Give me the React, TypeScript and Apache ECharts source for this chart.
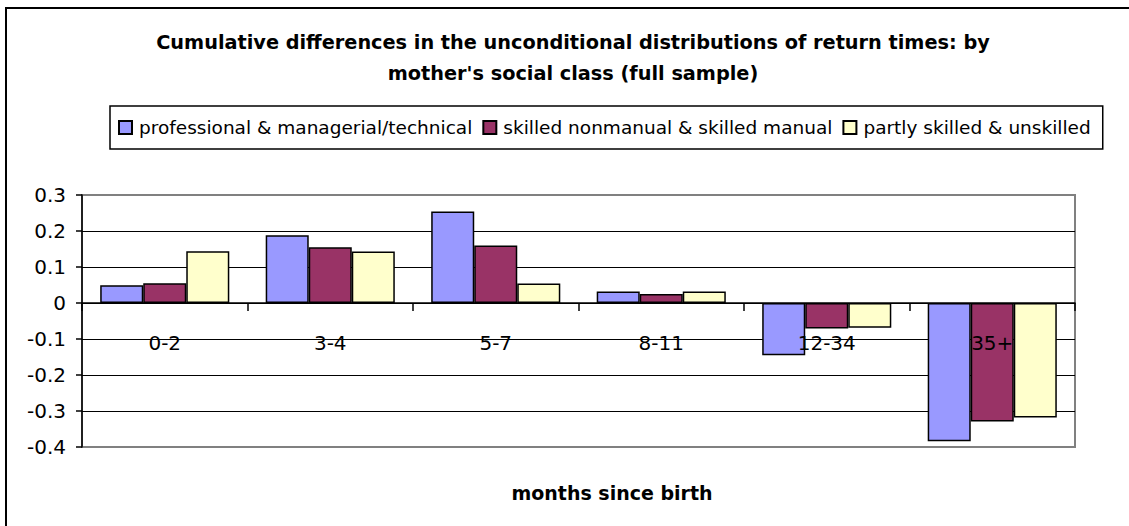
import React, { useEffect, useRef } from "react";
import * as echarts from "echarts";

const categories = ["0-2", "3-4", "5-7", "8-11", "12-34", "35+"];
const seriesNames = [
  "professional & managerial/technical",
  "skilled nonmanual & skilled manual",
  "partly skilled & unskilled",
];
const professional = [0.049, 0.188, 0.254, 0.032, -0.145, -0.384];
const skilled = [0.055, 0.155, 0.16, 0.025, -0.071, -0.329];
const partly = [0.144, 0.143, 0.054, 0.032, -0.069, -0.318];
const seriesColors = ["#9999FF", "#993366", "#FFFFCC"];
const yMin = -0.4;
const yMax = 0.3;

const FONT = '"DejaVu Sans", Arial, sans-serif';

export default function App() {
  const ref = useRef<HTMLDivElement>(null);
  useEffect(() => {
    if (!ref.current) return;
    const chart = echarts.init(ref.current, undefined, { renderer: "svg" });
    const values = [professional, skilled, partly];
    const gridTop = 195;
    const gridBottomPx = 447;
    const zeroOffset = -((gridBottomPx - gridTop) * (0 - yMin)) / (yMax - yMin);
    chart.setOption({
      animation: false,
      backgroundColor: "#ffffff",
      textStyle: { fontFamily: FONT },
      title: [
        {
          text: "Cumulative differences in the unconditional distributions of return times: by\nmother's social class (full sample)",
          left: 568,
          top: 22,
          textAlign: "center",
          textStyle: {
            fontFamily: FONT,
            fontSize: 19.3,
            fontWeight: "bold",
            color: "#000",
            lineHeight: 31,
          },
        },
        {
          text: "months since birth",
          left: 607,
          top: 478,
          textAlign: "center",
          textStyle: {
            fontFamily: FONT,
            fontSize: 19,
            fontWeight: "bold",
            color: "#000",
          },
        },
      ],
      legend: {
        left: 110,
        top: 106,
        padding: [12, 12, 12, 8],
        borderColor: "#000",
        borderWidth: 1.5,
        icon: "rect",
        itemWidth: 13,
        itemHeight: 13,
        itemGap: 10,
        textStyle: { fontFamily: FONT, fontSize: 18.5, color: "#000", padding: [0, 0, 0, 2] },
        data: seriesNames,
      },
      grid: {
        left: 82,
        top: gridTop,
        right: 54,
        bottom: 526 - gridBottomPx,
        show: true,
        borderColor: "#808080",
        borderWidth: 2,
        containLabel: false,
      },
      xAxis: {
        type: "category",
        data: categories,
        z: 10,
        boundaryGap: true,
        offset: zeroOffset,
        axisLine: { onZero: false, lineStyle: { color: "#000", width: 1.5 } },
        axisTick: { show: true, length: 8, inside: false, lineStyle: { color: "#000", width: 1.5 } },
        axisLabel: { margin: 30, fontSize: 20, color: "#000", fontFamily: FONT },
        splitLine: { show: false },
      },
      yAxis: {
        type: "value",
        min: yMin,
        max: yMax,
        interval: 0.1,
        axisLine: { show: true, lineStyle: { color: "#000", width: 1.5 } },
        axisTick: { show: true, length: 6, lineStyle: { color: "#000", width: 1.5 } },
        axisLabel: {
          fontSize: 20,
          color: "#000",
          margin: 16,
          fontFamily: FONT,
          formatter: (v: number) => String(parseFloat(v.toFixed(1))),
        },
        splitLine: {
          show: true,
          lineStyle: {
            color: ["#808080", "#000", "#000", "#000", "#000", "#000", "#000", "#808080"],
            width: 1.2,
          },
        },
      },
      series: seriesNames.map((name, i) => ({
        name,
        type: "bar",
        data: values[i],
        barGap: "0%",
        barCategoryGap: "22%",
        itemStyle: { color: seriesColors[i], borderColor: "#000", borderWidth: 1.5 },
      })),
      graphic: [
        {
          type: "rect",
          shape: { x: 6, y: 8, width: 1140, height: 540 },
          style: { fill: "none", stroke: "#000", lineWidth: 2 },
          silent: true,
          z: 100,
        },
      ],
    });
    return () => chart.dispose();
  }, []);
  return (
    <div
      ref={ref}
      style={{ position: "fixed", left: 0, top: 0, width: 1129, height: 526 }}
    />
  );
}
